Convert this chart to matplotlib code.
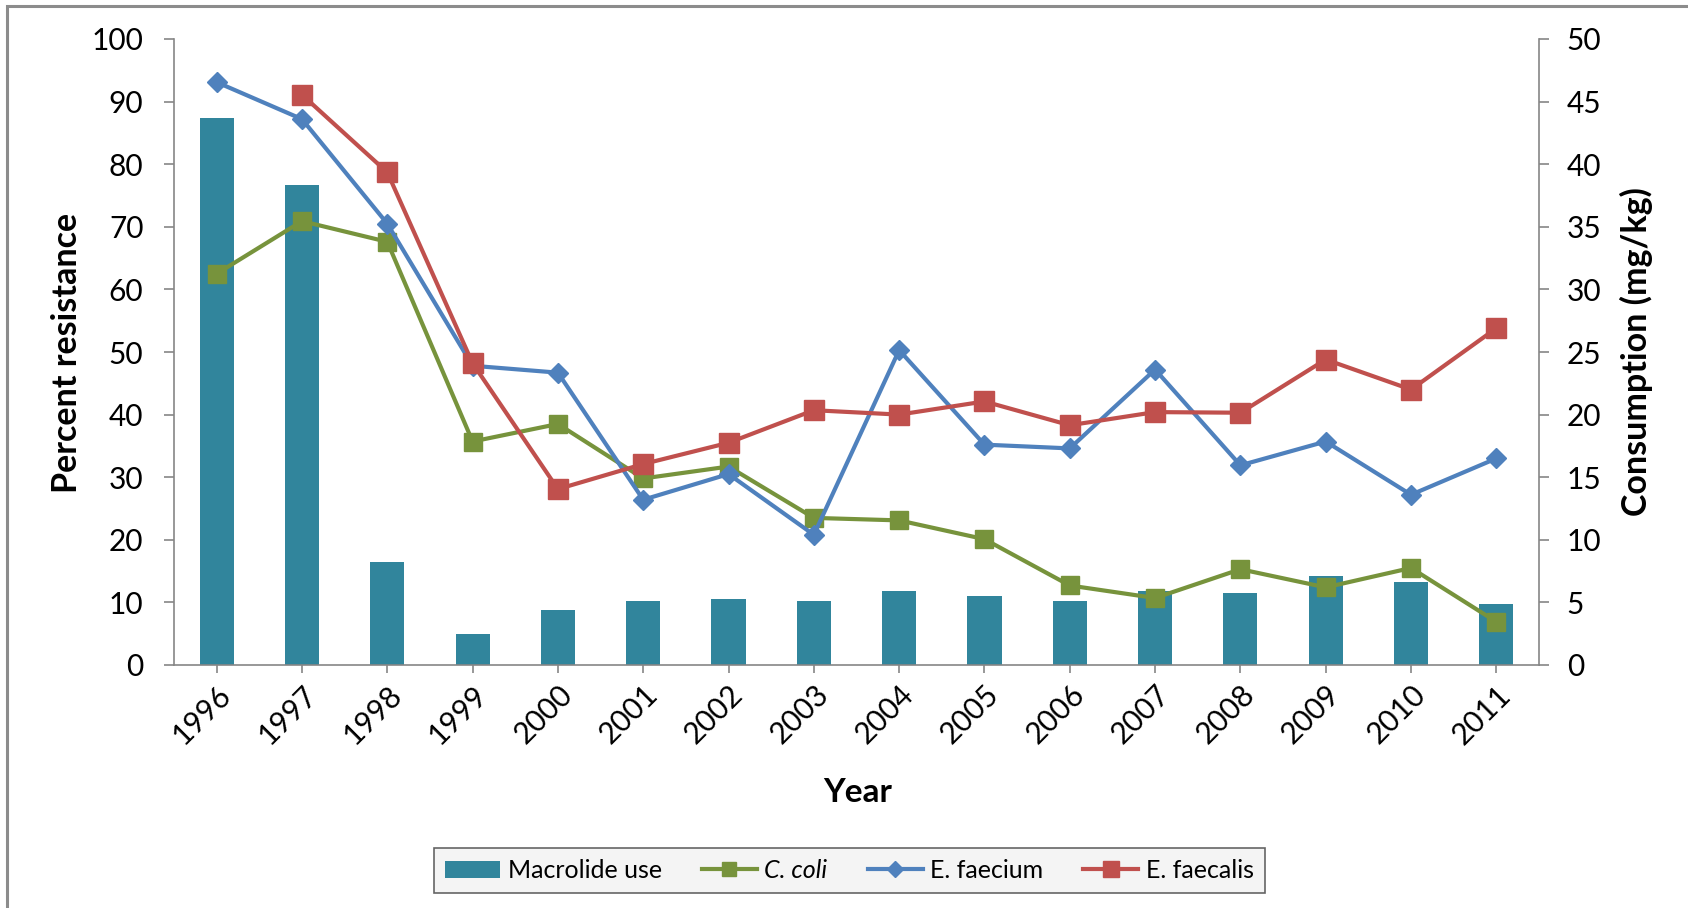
import numpy as np
import matplotlib.pyplot as plt
from matplotlib.patches import Rectangle

plt.rcParams['font.family'] = ['Lato', 'DejaVu Sans']

# Годы наблюдений
years = ['1996', '1997', '1998', '1999', '2000', '2001', '2002', '2003',
         '2004', '2005', '2006', '2007', '2008', '2009', '2010', '2011']

# Потребление макролидов, mg/kg (правая ось)
macrolide_use = [43.7, 38.3, 8.2, 2.45, 4.4, 5.15, 5.25, 5.15,
                 5.95, 5.55, 5.15, 5.95, 5.75, 7.1, 6.6, 4.9]

# Процент устойчивости (левая ось)
c_coli = [62.5, 70.9, 67.6, 35.7, 38.5, 29.8, 31.7, 23.5,
          23.1, 20.1, 12.7, 10.7, 15.3, 12.4, 15.5, 6.9]
e_faecium = [93.1, 87.2, 70.5, 47.8, 46.7, 26.4, 30.5, 20.8,
             50.3, 35.2, 34.6, 47.2, 31.9, 35.7, 27.2, 33.0]
e_faecalis = [np.nan, 91.1, 78.7, 48.2, 28.1, 32.1, 35.5, 40.7,
              40.0, 42.1, 38.3, 40.4, 40.3, 48.8, 44.0, 53.8]

x = np.arange(len(years))
axis_color = '#868686'

fig = plt.figure(figsize=(16.88, 9.08), dpi=100)
ax1 = fig.add_axes([174 / 1688, 1 - 665 / 908, 1365 / 1688, 626 / 908])
ax2 = ax1.twinx()

# Столбцы на правой оси
bars = ax2.bar(x, macrolide_use, width=0.4, color='#31859C', label='Macrolide use', zorder=1)

# Линии на левой оси
l1, = ax1.plot(x, c_coli, color='#77933C', lw=3, marker='s', ms=13, label='C. coli')
l2, = ax1.plot(x, e_faecium, color='#4F81BD', lw=3, marker='D', ms=10, label='E. faecium')
l3, = ax1.plot(x, e_faecalis, color='#C0504D', lw=3, marker='s', ms=15, label='E. faecalis')

ax1.set_zorder(ax2.get_zorder() + 1)
ax1.patch.set_visible(False)

ax1.set_xlim(-0.5, len(years) - 0.5)
ax1.set_ylim(0, 100)
ax2.set_ylim(0, 50)
ax1.set_yticks(np.arange(0, 101, 10))
ax2.set_yticks(np.arange(0, 51, 5))
ax1.set_xticks(x)
ax1.set_xticklabels(years, rotation=45, ha='right', rotation_mode='anchor')

for ax in (ax1, ax2):
    for s in ax.spines.values():
        s.set_visible(False)
    ax.tick_params(colors=axis_color, labelcolor='black', labelsize=21.5, width=1.2)
ax1.spines['left'].set_visible(True)
ax1.spines['bottom'].set_visible(True)
ax2.spines['right'].set_visible(True)
for s in (ax1.spines['left'], ax1.spines['bottom'], ax2.spines['right']):
    s.set_color(axis_color)
    s.set_linewidth(1.2)

ax1.tick_params(axis='y', length=7, pad=15)
ax2.tick_params(axis='y', length=7, pad=13)
ax1.tick_params(axis='x', length=6, pad=5)

fig.text(67 / 1688, 1 - 353 / 908, 'Percent resistance', rotation=90,
         ha='center', va='center', fontsize=24.5, fontweight='bold')
fig.text(1636 / 1688, 1 - 352 / 908, 'Consumption (mg/kg)', rotation=90,
         ha='center', va='center', fontsize=24.5, fontweight='bold')
fig.text(858 / 1688, 1 - 793 / 908, 'Year', ha='center', va='center',
         fontsize=24, fontweight='bold')

leg = fig.legend([bars, l1, l2, l3], ['Macrolide use', 'C. coli', 'E. faecium', 'E. faecalis'],
                 loc='center', bbox_to_anchor=(849.5 / 1688, 1 - 870.5 / 908),
                 ncol=4, fontsize=18, frameon=True, fancybox=False,
                 handlelength=2.2, handletextpad=0.3, columnspacing=1.6,
                 borderpad=0.45, markerscale=0.8)
leg.get_frame().set_facecolor('#F2F2F2')
leg.get_frame().set_edgecolor('#404040')
leg.get_frame().set_linewidth(1.2)
leg.get_texts()[1].set_fontstyle('italic')

# Рамка вокруг области диаграммы
fig.patches.append(Rectangle((7 / 1688, -0.1), 1.2, 1 - 6 / 908 + 0.1,
                             transform=fig.transFigure, fill=False,
                             edgecolor='#8c8c8c', lw=2.2))

fig.savefig('out.png', dpi=100)
